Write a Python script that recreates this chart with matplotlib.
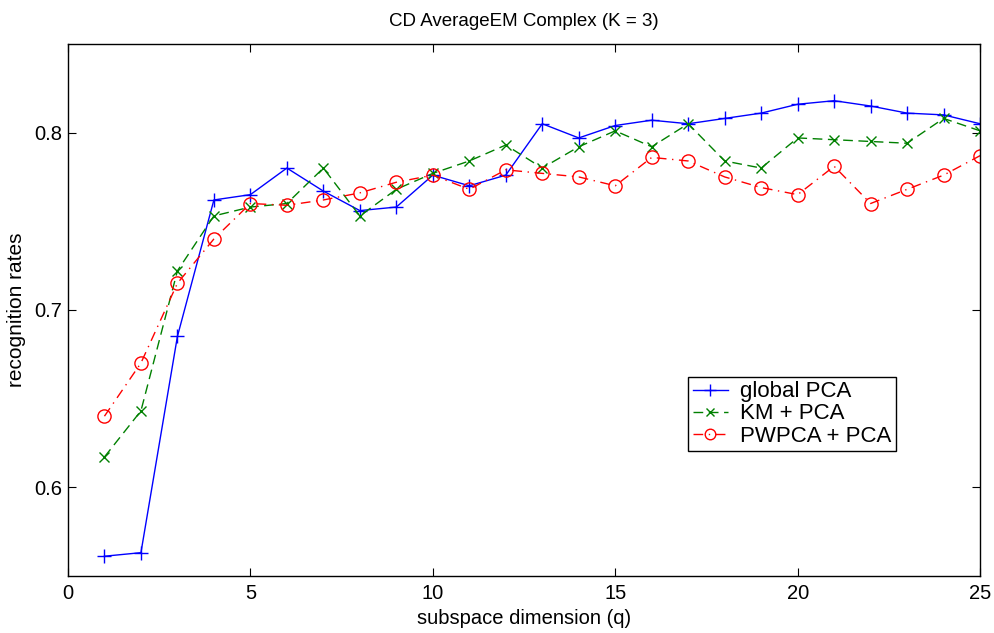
import matplotlib

matplotlib.use("Agg")

import matplotlib.pyplot as plt

plt.rcParams["font.family"] = ["Liberation Sans", "DejaVu Sans"]

# subspace dimension q
dims = list(range(1, 26))

global_pca = [0.561, 0.563, 0.685, 0.762, 0.765, 0.780, 0.767, 0.756, 0.758, 0.776,
              0.770, 0.776, 0.805, 0.797, 0.804, 0.807, 0.805, 0.808, 0.811, 0.816,
              0.818, 0.815, 0.811, 0.810, 0.805]
km_pca = [0.617, 0.643, 0.722, 0.753, 0.758, 0.760, 0.780, 0.753, 0.768, 0.777,
          0.784, 0.793, 0.780, 0.792, 0.801, 0.792, 0.805, 0.784, 0.780, 0.797,
          0.796, 0.795, 0.794, 0.808, 0.801]
pwpca_pca = [0.640, 0.670, 0.715, 0.740, 0.760, 0.759, 0.762, 0.766, 0.772, 0.776,
             0.768, 0.779, 0.777, 0.775, 0.770, 0.786, 0.784, 0.775, 0.769, 0.765,
             0.781, 0.760, 0.768, 0.776, 0.787]

fig = plt.figure(figsize=(9.95, 6.33), dpi=100)
ax = fig.add_axes([0.0683, 0.0905, 0.9167, 0.84])

ax.plot(dims, global_pca, color="blue", linestyle="-", marker="+",
        markersize=10, markeredgewidth=1, linewidth=1, label="global PCA")
ax.plot(dims, km_pca, color="green", linestyle=(0, (7, 4)), marker="x",
        markersize=6.5, markeredgewidth=1, linewidth=1, label="KM + PCA")
ax.plot(dims, pwpca_pca, color="red", linestyle=(0, (7, 4, 1, 4)), marker="o",
        markersize=9.5, markerfacecolor="none", markeredgewidth=1, linewidth=1,
        label="PWPCA + PCA")

ax.set_xlim(0, 25)
ax.set_ylim(0.55, 0.85)
ax.set_xticks([0, 5, 10, 15, 20, 25])
ax.set_yticks([0.6, 0.7, 0.8])
ax.tick_params(direction="in", top=True, right=True, labelsize=14.5, length=6)
ax.tick_params(axis="x", pad=6)
ax.tick_params(axis="y", pad=4)
for s in ax.spines.values():
    s.set_linewidth(1)

ax.set_xlabel("subspace dimension (q)", fontsize=14.5, labelpad=4)
ax.set_ylabel("recognition rates", fontsize=15, labelpad=6)
ax.set_title("CD AverageEM Complex (K = 3)", fontsize=13.5, pad=13)

leg = ax.legend(loc="upper left", bbox_to_anchor=(0.680, 0.374), fontsize=16,
                fancybox=False, framealpha=1, edgecolor="black",
                handlelength=1.6, handletextpad=0.55, borderpad=0.2,
                labelspacing=0.05, borderaxespad=0, markerscale=0.8)
leg.get_frame().set_linewidth(1)

fig.savefig("out.png", dpi=100)
